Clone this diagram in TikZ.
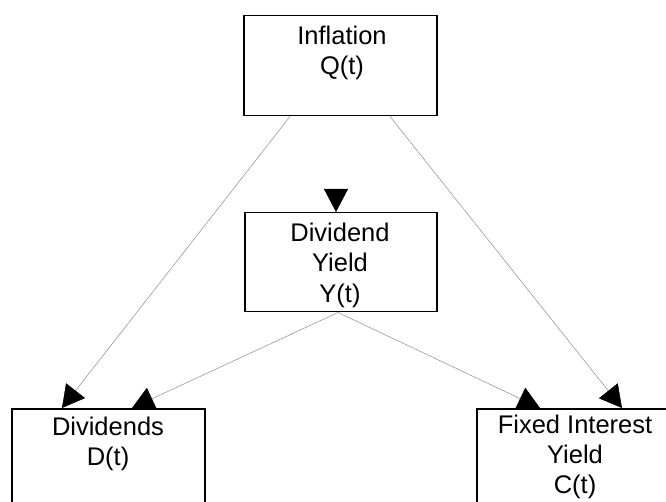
\documentclass[tikz,border=0pt]{standalone}
\usepackage{fontspec}
\setmainfont{Liberation Sans}
\usetikzlibrary{arrows.meta}
\begin{document}
\begin{tikzpicture}[x=1pt,y=-1pt,
  box/.style={draw=black,line width=1.5pt,minimum width=193pt,minimum height=100pt,inner sep=0pt,anchor=north west},
  lbl/.style={align=center,anchor=base,inner sep=0pt,font=\fontsize{25.5}{30}\selectfont},
  link/.style={draw=black!45,line width=0.5pt,-{Triangle[length=22pt,width=24pt,color=black]}},
  hidden/.style={draw=white,line width=0.5pt,-{Triangle[length=23pt,width=24pt,color=black]}}]
  \clip (0,0) rectangle (666,502);
  \fill[white] (0,0) rectangle (666,502);

  % boxes
  \node[box] (inf) at (243,15) {};
  \node[box,minimum width=192pt,minimum height=99pt] (dy) at (244,212) {};
  \node[box,minimum height=120pt] (div) at (11,408) {};
  \node[box,minimum height=120pt] (fix) at (476,408) {};

  % labels (anchored at the baseline of their last line)
  \node[lbl] (infT) at (342,75) {Inflation\\Q(t)};
  \node[lbl,font=\fontsize{25.5}{31}\selectfont] (dyT) at (340,303) {Dividend\\Yield\\Y(t)};
  \node[lbl] (divT) at (108,465) {Dividends\\D(t)};
  \node[lbl] (fixT) at (575,493) {Fixed Interest\\Yield\\C(t)};

  % connectors
  \draw[link] ([xshift=47pt]inf.south west) -- ([xshift=51pt]div.north west);
  \draw[link] ([xshift=147pt]inf.south west) -- ([xshift=146pt]fix.north west);
  \draw[hidden] ([xshift=93pt]inf.south west) -- ([xshift=92pt]dy.north west);
  \draw[link] ([xshift=94pt]dy.south west) -- ([xshift=121pt]div.north west);
  \draw[link] ([xshift=94pt]dy.south west) -- ([xshift=64pt]fix.north west);
\end{tikzpicture}
\end{document}
